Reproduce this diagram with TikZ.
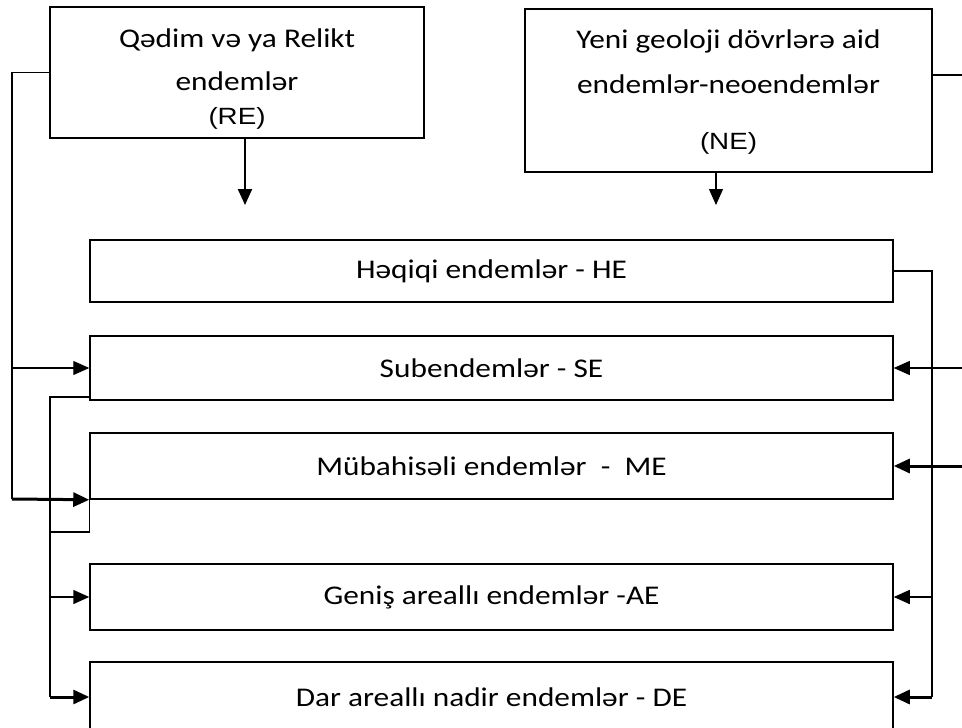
\documentclass[tikz,border=0pt]{standalone}
\usepackage{fontspec}
\setmainfont{Carlito}[FakeStretch=1.16]
\newfontfamily\parenfont{Liberation Sans}[FakeStretch=1.18]
\usetikzlibrary{arrows.meta,positioning,calc}
\tikzset{%
  every box/.style={
    draw,
    line width=1.5pt,
    minimum width=803pt,
    inner sep=0pt,
    font=\fontsize{27}{44}\selectfont
  },
  top box/.style={
    every box,
    align=center
  },
  link/.style={line width=1.5pt},
  thin link/.style={line width=1.1pt},
  thick link/.style={line width=3pt},
}

\begin{document}
\begin{tikzpicture}[x=1pt, y=-1pt, >={Triangle[length=16pt,width=14pt]}]
        \useasboundingbox (0,0) rectangle (962,728);
        \clip (0,0) rectangle (962,728);

        \node [top box, minimum width=374pt, minimum height=131pt, text height=117pt, text depth=14pt] (top-RE) at (237,72.5)
            {Qədim və ya Relikt\\[-1pt]endemlər\\[-10pt]{\parenfont\fontsize{23.5}{44}\selectfont (RE)}};
        \node [top box, minimum width=407pt, minimum height=163pt, text height=140pt, text depth=23pt] (top-NE) at (728.5,90.5)
            {Yeni geoloji dövrlərə aid\\[1pt]endemlər-neoendemlər\\[12pt]{\parenfont\fontsize{23.5}{44}\selectfont (NE)}};

        \foreach \n/\t/\y/\h in {HE/{Həqiqi endemlər - HE}/271/62, SE/{Subendemlər - SE}/368/64,
                                 ME/{Mübahisəli endemlər\ \ -\ \ ME}/466/66, AE/{Geniş areallı endemlər -AE}/597/66,
                                 DE/{Dar areallı nadir endemlər - DE}/697/70}
            \node [every box, minimum height=\h pt] (box-\n) at (491.5,\y) {\t};

        \coordinate (drop-RE) at (245,205);
        \coordinate (drop-NE) at (716,205);
        \draw [->, line width=2.2pt] (top-RE.south -| drop-RE) -- (drop-RE);
        \draw [->, thin link] (top-NE.south -| drop-NE) -- (drop-NE);

        % left side
        \coordinate (rail-L) at (12,499);
        \draw [link] (top-RE.west) -| (rail-L);
        \draw [->, thin link] (rail-L |- box-SE.west) -- (box-SE.west);
        \draw [->, thick link] (rail-L) -- (box-ME.south west);

        \coordinate (brk-a) at (50,397);
        \coordinate (brk-b) at (50,532);
        \draw [link] (box-SE.south west |- brk-a) -- (brk-a) -- (brk-a |- box-DE.west);
        \draw [link] (box-ME.south west) -- (box-ME.west |- brk-b) -- (brk-b);
        \draw [->, link] (brk-a |- box-AE.west) -- (box-AE.west);
        \draw [->, thick link] (brk-a |- box-DE.west) -- (box-DE.west);

        % right side
        \coordinate (rail-R) at (932,0);
        \draw [link] (box-HE.east) -| (rail-R |- box-DE.east);
        \draw [->, link] (rail-R |- box-AE.east) -- (box-AE.east);
        \draw [->, thick link] (rail-R |- box-DE.east) -- (box-DE.east);

        \coordinate (edge-R) at (962,75);
        \draw [link] (top-NE.east |- edge-R) -- (edge-R);
        \draw [->, thin link] (edge-R |- box-SE.east) -- (box-SE.east);
        \draw [->, thick link] (edge-R |- box-ME.east) -- (box-ME.east);
\end{tikzpicture}
\end{document}
